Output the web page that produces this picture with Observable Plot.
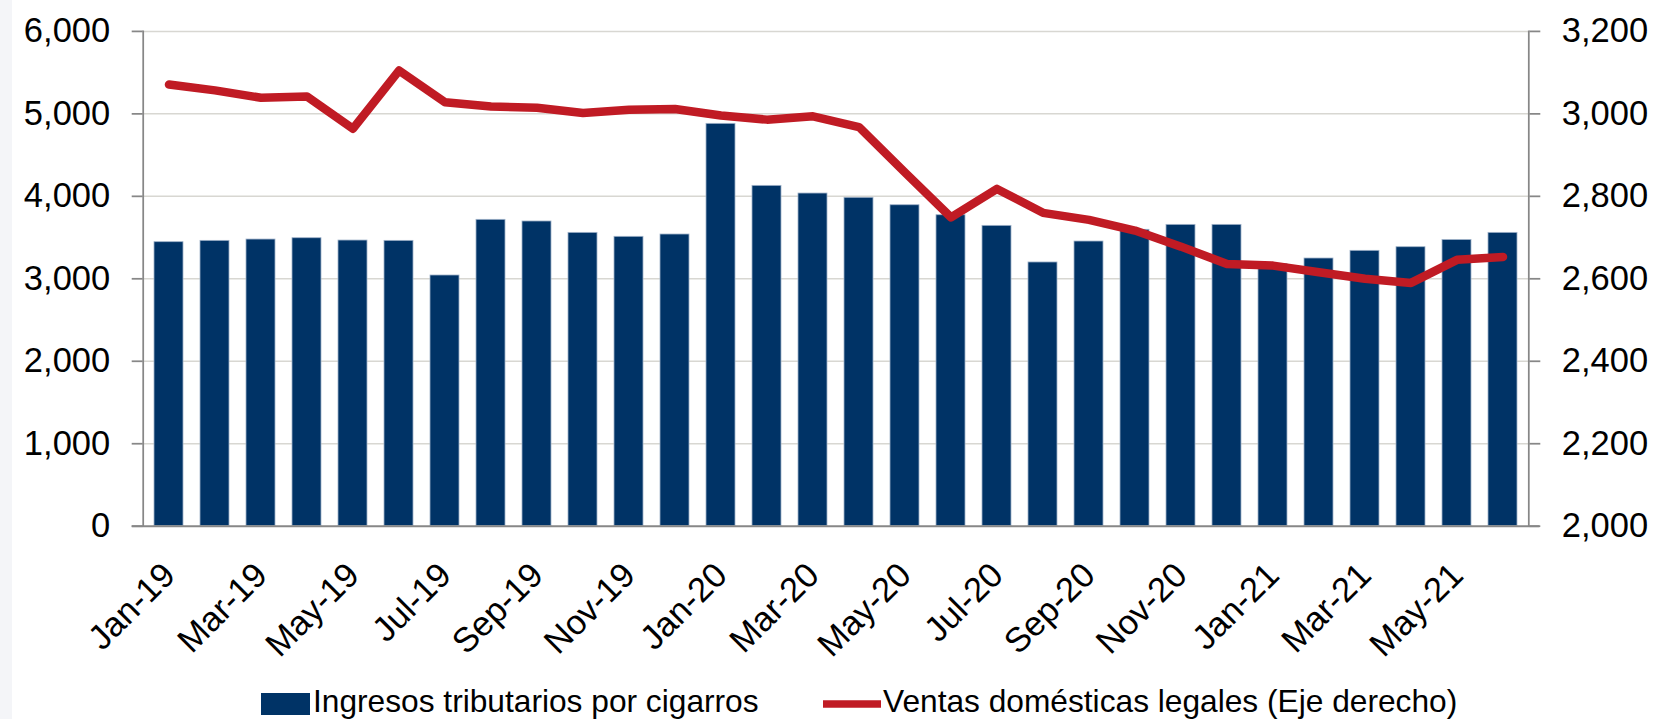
<!DOCTYPE html>
<html>
<head>
<meta charset="utf-8">
<script src="https://cdn.jsdelivr.net/npm/d3@7"></script>
<script src="https://cdn.jsdelivr.net/npm/@observablehq/plot@0.6"></script>
<style>
  html, body { margin: 0; padding: 0; background: #fff; }
  #wrap { position: relative; width: 1659px; height: 719px; overflow: hidden; background: #fff; }
  #strip { position: absolute; left: 0; top: 0; width: 12px; height: 719px; background: #f4f5f8; }
  #chart svg { display: block; }
  #legend { display: block; }
</style>
</head>
<body>
<div id="wrap">
  <div id="strip"></div>
  <div id="chart"></div>
  <svg id="legend" width="1659" height="39"></svg>
</div>
<script>
// ---- data ----
const months = [
  "Jan-19","Feb-19","Mar-19","Apr-19","May-19","Jun-19","Jul-19","Aug-19","Sep-19","Oct-19","Nov-19","Dec-19",
  "Jan-20","Feb-20","Mar-20","Apr-20","May-20","Jun-20","Jul-20","Aug-20","Sep-20","Oct-20","Nov-20","Dec-20",
  "Jan-21","Feb-21","Mar-21","Apr-21","May-21","Jun-21"
];
// Ingresos tributarios por cigarros (left axis)
const ingresos = [
  3444, 3460, 3476, 3492, 3464, 3460, 3040, 3715, 3695, 3557, 3509, 3537,
  4879, 4127, 4034, 3982, 3892, 3771, 3642, 3198, 3452, 3594, 3654, 3654,
  3180, 3246, 3339, 3383, 3470, 3557
];
// Ventas domésticas legales (right axis)
const ventas = [
  3071, 3057, 3039, 3042, 2964, 3105, 3028, 3018, 3015, 3002, 3010, 3012,
  2996, 2986, 2994, 2968, 2858, 2749, 2818, 2760, 2743, 2717, 2678, 2636,
  2632, 2616, 2600, 2590, 2646, 2653
];
const xTickLabels = ["Jan-19","Mar-19","May-19","Jul-19","Sep-19","Nov-19","Jan-20","Mar-20","May-20","Jul-20","Sep-20","Nov-20","Jan-21","Mar-21","May-21"];
const leftTicks = [0, 1000, 2000, 3000, 4000, 5000, 6000];
const rightTicks = [2000, 2200, 2400, 2600, 2800, 3000, 3200];
const seriesNames = ["Ingresos tributarios por cigarros", "Ventas domésticas legales (Eje derecho)"];

// right axis [2000, 3200] mapped onto left axis [0, 6000]
const rMin = 2000, rMax = 3200, lMax = 6000;
const toLeft = v => (v - rMin) * lMax / (rMax - rMin);
const fromLeft = v => rMin + v * (rMax - rMin) / lMax;

const table = months.map((m, i) => ({month: m, ingresos: ingresos[i], ventas: ventas[i]}));

const BLUE = "#003366", RED = "#c01b24", AXIS = "#878787", GRID = "#d8d7d2";
const fmt = d3.format(",");
const FS = 34.5;

const chart = Plot.plot({
  width: 1659,
  height: 680,
  marginTop: 30.9,
  marginBottom: 154.3,
  marginLeft: 142.7,
  marginRight: 130.7,
  style: {fontFamily: "'Liberation Sans', Arial, sans-serif", background: "transparent", color: "black"},
  x: {type: "band", domain: months, paddingInner: 0.366, paddingOuter: 0.183, axis: null, label: null},
  y: {domain: [0, 6000], axis: null, label: null},
  marks: [
    Plot.gridY({ticks: leftTicks.slice(1), stroke: GRID, strokeOpacity: 1, strokeWidth: 1.5}),
    Plot.barY(table, {x: "month", y: "ingresos", fill: BLUE, stroke: "#9fb2c9", strokeWidth: 0.8}),
    Plot.line(table, {x: "month", y: d => toLeft(d.ventas), stroke: RED, strokeWidth: 8.5, strokeLinecap: "round", strokeLinejoin: "round"}),
    Plot.frame({anchor: "left", stroke: AXIS, strokeWidth: 1.75}),
    Plot.frame({anchor: "right", stroke: AXIS, strokeWidth: 1.75}),
    Plot.ruleY([0], {stroke: AXIS, strokeWidth: 2, insetLeft: -11, insetRight: -11}),
    Plot.axisY({anchor: "left", ticks: leftTicks, tickSize: 11, tickPadding: 22, fontSize: FS, tickFormat: fmt, stroke: AXIS, strokeWidth: 1.75, fill: "black", label: null}),
    Plot.axisY({anchor: "right", ticks: rightTicks.map(toLeft), tickSize: 11, tickPadding: 22, fontSize: FS, tickFormat: d => fmt(Math.round(fromLeft(d))), stroke: AXIS, strokeWidth: 1.75, fill: "black", label: null}),
    Plot.text(xTickLabels, {x: d => d, frameAnchor: "bottom", rotate: -45, textAnchor: "end", lineAnchor: "bottom", dx: 8, dy: 51, fontSize: FS, fill: "black"})
  ]
});
document.getElementById("chart").appendChild(chart);

// ---- legend below the chart ----
const lg = d3.select("#legend").style("font-family", "'Liberation Sans', Arial, sans-serif");
lg.append("rect").attr("x", 261).attr("y", 13).attr("width", 49).attr("height", 22).attr("fill", BLUE);
lg.append("text").attr("x", 313).attr("y", 32).attr("font-size", 31.7).attr("fill", "black").text(seriesNames[0]);
lg.append("line").attr("x1", 823).attr("x2", 881).attr("y1", 24).attr("y2", 24).attr("stroke", RED).attr("stroke-width", 7.5);
lg.append("text").attr("x", 883).attr("y", 32).attr("font-size", 31.7).attr("fill", "black").text(seriesNames[1]);
</script>
</body>
</html>
